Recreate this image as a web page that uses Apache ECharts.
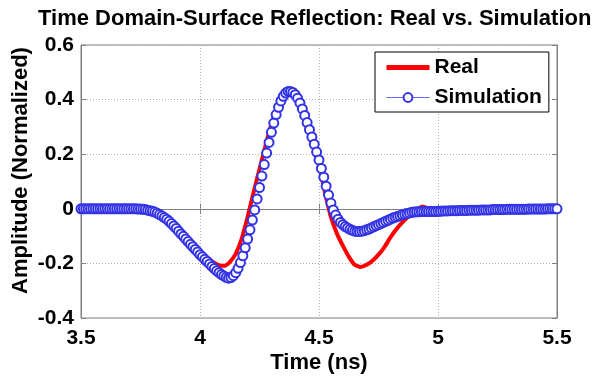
<!DOCTYPE html>
<html>
<head>
<meta charset="utf-8">
<script src="https://cdn.jsdelivr.net/npm/echarts@6/dist/echarts.min.js"></script>
<style>html,body{margin:0;padding:0;background:#fff}#c{width:601px;height:377px}</style>
</head>
<body>
<div id="c"></div>
<script>
var titleText = 'Time Domain-Surface Reflection: Real vs. Simulation';
var xName = 'Time (ns)';
var yName = 'Amplitude (Normalized)';
var seriesNames = ['Real', 'Simulation'];
var xTicks = [3.5, 4, 4.5, 5, 5.5];
var yTicks = [-0.4, -0.2, 0, 0.2, 0.4, 0.6];

var realTime = [3.50,3.60,3.70,3.75,3.80,3.85,3.90,3.95,4.00,4.025,4.05,4.075,4.10,4.125,4.15,4.175,4.20,4.225,4.25,4.275,4.30,4.325,4.35,4.375,4.40,4.425,4.45,4.475,4.50,4.525,4.55,4.575,4.60,4.625,4.65,4.675,4.70,4.725,4.75,4.775,4.80,4.825,4.85,4.875,4.90,4.935,4.95,5.00,5.10,5.20,5.30,5.40,5.50];
var realAmp = [0,0,0,0,-0.005,-0.022,-0.062,-0.105,-0.152,-0.175,-0.193,-0.205,-0.209,-0.195,-0.165,-0.110,-0.030,0.060,0.145,0.230,0.310,0.370,0.410,0.428,0.415,0.370,0.310,0.240,0.160,0.060,-0.030,-0.090,-0.135,-0.175,-0.205,-0.213,-0.205,-0.190,-0.168,-0.140,-0.105,-0.075,-0.050,-0.028,-0.010,0.008,0.004,0.003,0.002,0.003,0.004,0.005,0.005];

var simTime = [
  3.50,3.51,3.52,3.53,3.54,3.55,3.56,3.57,3.58,3.59,
  3.60,3.61,3.62,3.63,3.64,3.65,3.66,3.67,3.68,3.69,
  3.70,3.71,3.72,3.73,3.74,3.75,3.76,3.77,3.78,3.79,
  3.80,3.81,3.82,3.83,3.84,3.85,3.86,3.87,3.88,3.89,
  3.90,3.91,3.92,3.93,3.94,3.95,3.96,3.97,3.98,3.99,
  4.00,4.01,4.02,4.03,4.04,4.05,4.06,4.07,4.08,4.09,
  4.10,4.11,4.12,4.13,4.14,4.15,4.16,4.17,4.18,4.19,
  4.20,4.21,4.22,4.23,4.24,4.25,4.26,4.27,4.28,4.29,
  4.30,4.31,4.32,4.33,4.34,4.35,4.36,4.37,4.38,4.39,
  4.40,4.41,4.42,4.43,4.44,4.45,4.46,4.47,4.48,4.49,
  4.50,4.51,4.52,4.53,4.54,4.55,4.56,4.57,4.58,4.59,
  4.60,4.61,4.62,4.63,4.64,4.65,4.66,4.67,4.68,4.69,
  4.70,4.71,4.72,4.73,4.74,4.75,4.76,4.77,4.78,4.79,
  4.80,4.81,4.82,4.83,4.84,4.85,4.86,4.87,4.88,4.89,
  4.90,4.91,4.92,4.93,4.94,4.95,4.96,4.97,4.98,4.99,
  5.00,5.01,5.02,5.03,5.04,5.05,5.06,5.07,5.08,5.09,
  5.10,5.11,5.12,5.13,5.14,5.15,5.16,5.17,5.18,5.19,
  5.20,5.21,5.22,5.23,5.24,5.25,5.26,5.27,5.28,5.29,
  5.30,5.31,5.32,5.33,5.34,5.35,5.36,5.37,5.38,5.39,
  5.40,5.41,5.42,5.43,5.44,5.45,5.46,5.47,5.48,5.49,
  5.50];
var simAmp = [
  0,0,0,0,0,0,0,0,0,0,
  0,0,0,0,0,0,0,0,0,0,
  0,0,0,0,-0.001,-0.001,-0.002,-0.003,-0.005,-0.007,
  -0.009,-0.012,-0.016,-0.021,-0.026,-0.032,-0.038,-0.046,-0.054,-0.063,
  -0.072,-0.082,-0.092,-0.101,-0.111,-0.120,-0.130,-0.139,-0.149,-0.158,
  -0.168,-0.176,-0.185,-0.193,-0.202,-0.211,-0.219,-0.227,-0.234,-0.241,
  -0.246,-0.251,-0.254,-0.252,-0.245,-0.234,-0.218,-0.197,-0.172,-0.143,
  -0.111,-0.077,-0.041,-0.004,0.036,0.078,0.120,0.162,0.204,0.243,
  0.280,0.314,0.345,0.372,0.395,0.412,0.424,0.430,0.430,0.426,
  0.418,0.405,0.388,0.366,0.342,0.316,0.290,0.263,0.236,0.208,
  0.179,0.148,0.116,0.083,0.051,0.021,-0.004,-0.023,-0.038,-0.050,
  -0.058,-0.065,-0.070,-0.075,-0.079,-0.082,-0.083,-0.083,-0.082,-0.080,
  -0.077,-0.074,-0.070,-0.066,-0.062,-0.058,-0.054,-0.050,-0.046,-0.042,
  -0.038,-0.034,-0.031,-0.028,-0.025,-0.022,-0.019,-0.017,-0.015,-0.013,
  -0.012,-0.011,-0.011,-0.010,-0.010,-0.010,-0.010,-0.010,-0.010,-0.010,
  -0.009,-0.009,-0.008,-0.008,-0.008,-0.007,-0.007,-0.007,-0.007,-0.006,
  -0.006,-0.006,-0.006,-0.005,-0.005,-0.005,-0.005,-0.005,-0.004,-0.004,
  -0.004,-0.004,-0.004,-0.003,-0.003,-0.003,-0.003,-0.003,-0.003,-0.002,
  -0.002,-0.002,-0.002,-0.002,-0.002,-0.002,-0.002,-0.002,-0.001,-0.001,
  -0.001,-0.001,-0.001,-0.001,-0.001,-0.001,0,0,0,0,
  0];

function pairs(t, v) { return t.map(function (x, i) { return [x, v[i]]; }); }

var FONT = 'Liberation Sans';
var chart = echarts.init(document.getElementById('c'), null, {renderer: 'canvas'});
var xMin = xTicks[0], xMax = xTicks[xTicks.length - 1];
var yMin = yTicks[0], yMax = yTicks[yTicks.length - 1];
var gridLine = {show: true, lineStyle: {color: '#b0b0b0', type: [1, 2], width: 1}};
var tickIn = {show: true, inside: true, length: 5, lineStyle: {color: '#808080'}};
var axLine = {show: true, lineStyle: {color: '#808080', width: 1}};
var tickLbl = {fontFamily: FONT, fontWeight: 'bold', fontSize: 21, color: '#000'};

chart.setOption({
  animation: false,
  backgroundColor: '#fff',
  title: {
    text: titleText, left: 33, top: 3,
    textStyle: {fontFamily: FONT, fontWeight: 'bold', fontSize: 22, color: '#000'}
  },
  legend: {
    orient: 'vertical', left: 375, top: 52,
    data: [
      {name: seriesNames[0], itemStyle: {opacity: 0}, lineStyle: {width: 5}},
      {name: seriesNames[1], lineStyle: {width: 1}, itemStyle: {borderWidth: 1}}
    ],
    backgroundColor: '#fff', borderColor: '#000', borderWidth: 1,
    padding: [5, 7, 4, 9], itemGap: 9, itemWidth: 43, itemHeight: 11,
    textStyle: {fontFamily: FONT, fontWeight: 'bold', fontSize: 21, color: '#000'}
  },
  grid: {left: 81, right: 44, top: 45, bottom: 59, outerBoundsMode: 'none', containLabel: false,
    show: true, borderColor: '#808080', borderWidth: 1},
  xAxis: [{
    type: 'value', min: xMin, max: xMax, interval: 0.5,
    axisLine: axLine, axisTick: tickIn, splitLine: gridLine,
    axisLabel: Object.assign({margin: 10, formatter: function (v) { return String(v); }}, tickLbl),
    name: xName, nameLocation: 'middle', nameGap: 34, nameMoveOverlap: false,
    nameTextStyle: {fontFamily: FONT, fontWeight: 'bold', fontSize: 22, color: '#000'}
  }, {
    type: 'value', position: 'top', min: xMin, max: xMax, interval: 0.5,
    axisLine: axLine, axisTick: tickIn, splitLine: {show: false}, axisLabel: {show: false}
  }],
  yAxis: [{
    type: 'value', min: yMin, max: yMax, interval: 0.2,
    axisLine: axLine, axisTick: tickIn, splitLine: gridLine,
    axisLabel: Object.assign({margin: 7, formatter: function (v) { return String(Math.round(v * 10) / 10); }}, tickLbl),
    name: yName, nameLocation: 'middle', nameGap: 49, nameMoveOverlap: false,
    nameTextStyle: {fontFamily: FONT, fontWeight: 'bold', fontSize: 22, color: '#000', padding: [0, 0, 0, 22]}
  }, {
    type: 'value', position: 'right', min: yMin, max: yMax, interval: 0.2,
    axisLine: axLine, axisTick: tickIn, splitLine: {show: false}, axisLabel: {show: false}
  }],
  series: [{
    name: seriesNames[0], type: 'line', data: pairs(realTime, realAmp),
    smooth: 0.2, showSymbol: false, symbol: 'none',
    lineStyle: {color: '#ff0000', width: 4}, itemStyle: {color: '#ff0000'}, z: 2
  }, {
    name: seriesNames[1], type: 'line', data: pairs(simTime, simAmp),
    symbol: 'emptyCircle', symbolSize: 9, showAllSymbol: true,
    lineStyle: {color: '#6666ff', width: 1}, itemStyle: {color: '#3333e6', borderWidth: 1},
    z: 3
  }]
});
</script>
</body>
</html>
